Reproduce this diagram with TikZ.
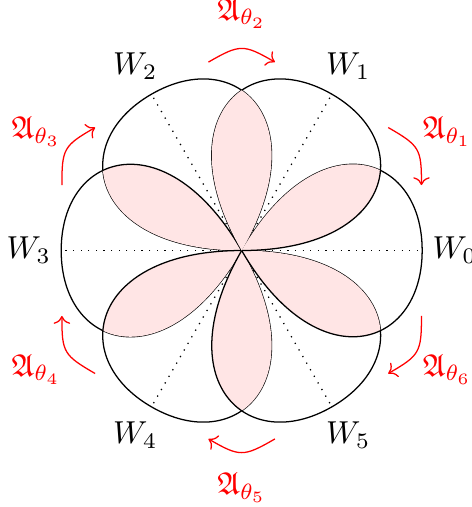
\documentclass[tikz,border=0pt]{standalone}
\usepackage{amsmath,amssymb}
\usepackage{tikz}
\usetikzlibrary{arrows.meta}
\definecolor{petalPink}{RGB}{255,229,229}
\definecolor{stokesRed}{RGB}{255,0,0}

\tikzset{
    lobe shape/.style={insert path={(0,0) .. controls (60:1.66) and (2,1.1) .. (2,0)
        .. controls (2,-1.1) and (-60:1.66) .. (0,0)}},
    lobe/.style={black, line width=0.4pt},
    petal/.style={fill=petalPink},
    ray/.style={dotted, line width=0.4pt},
    sweep/.style={stokesRed, line width=0.4pt, ->},
}

\begin{document}
\begin{tikzpicture}[x=1cm,y=1cm]
    \useasboundingbox (-2.678,-2.842) rectangle (2.552,2.776);

    % Rays
    \foreach \k in {0,...,5}
        \draw[ray] (0,0) -- (60*\k:2);

    % Sectors and their overlaps
    \foreach \k in {2,...,7} {
        \draw[lobe, rotate=60*\k, lobe shape];
        \begin{scope}
            \clip[rotate=60*\k, lobe shape];
            \path[petal, rotate=60*\k+60, lobe shape];
        \end{scope}
    }

    % Labels and arrows
    \foreach \k [count=\j] in {0,...,5} {
        \node (w\k) at (60*\k:2.36) {$W_\k$};
        \coordinate (s\k) at (60*\k+40:2.12);
        \coordinate (e\k) at (60*\k+20:2.12);
        \draw[sweep] (s\k) to[out=60*\k-30, in=60*\k+90, looseness=1.4] (e\k);
        \node[text=stokesRed] (a\j) at (60*\k+30:2.63) {$\mathfrak{A}_{\theta_\j}$};
    }

\end{tikzpicture}
\end{document}
